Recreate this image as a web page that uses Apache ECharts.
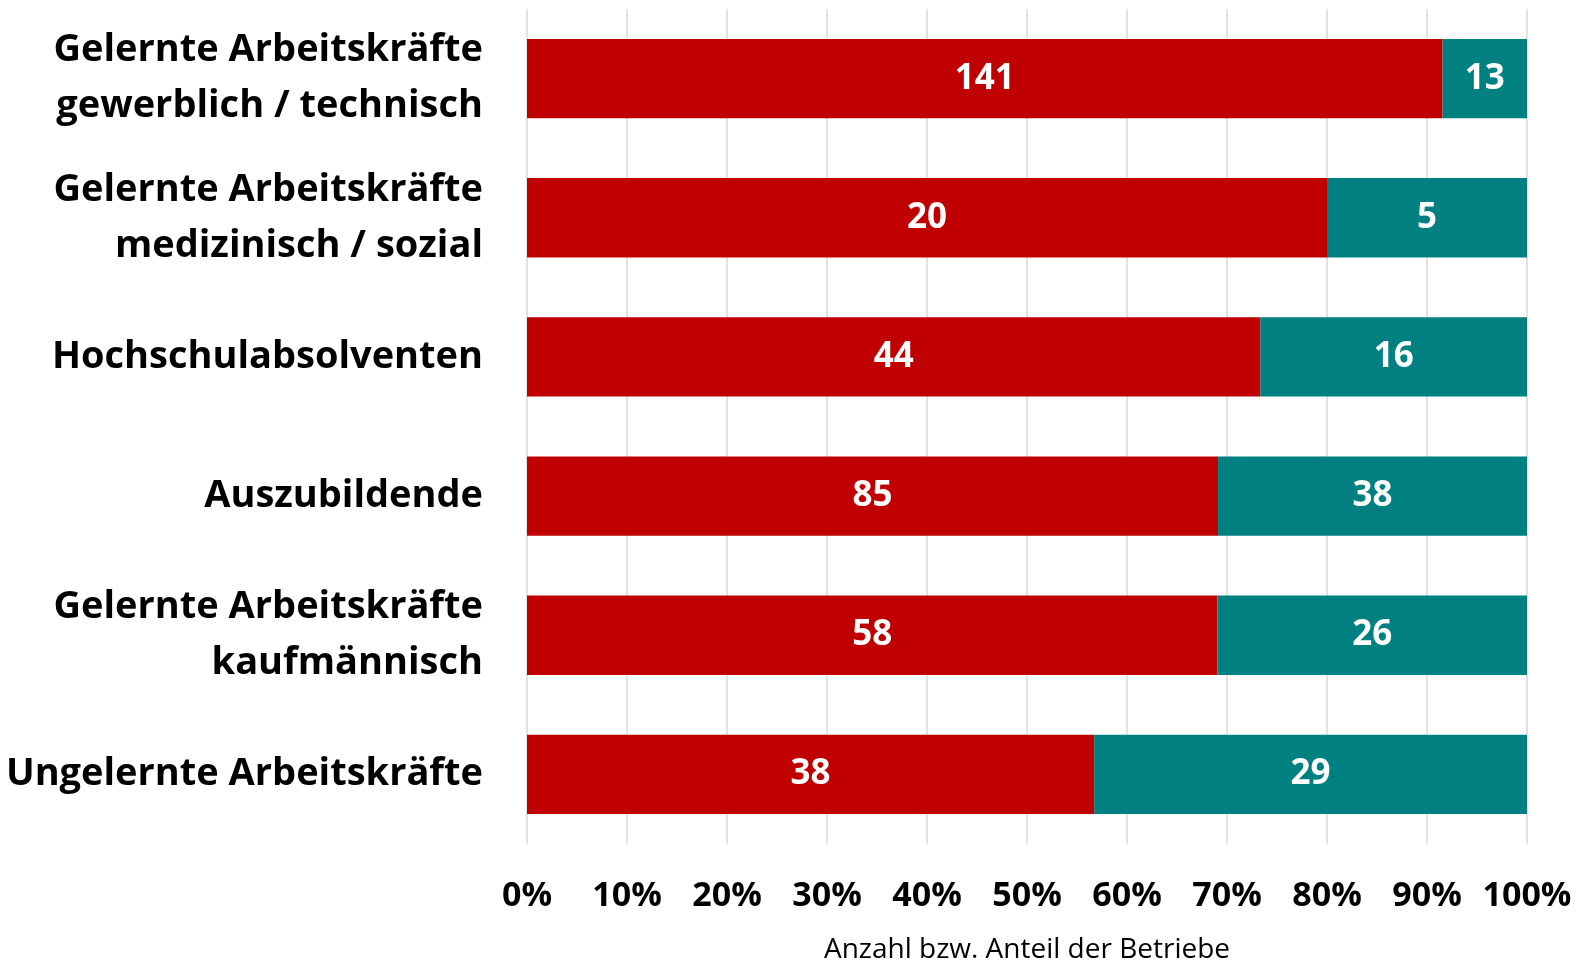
<!DOCTYPE html>
<html>
<head>
<meta charset="utf-8">
<script src="https://cdn.jsdelivr.net/npm/echarts@6/dist/echarts.min.js"></script>
<style>
  html, body { margin: 0; padding: 0; background: #fff; }
  #chart { width: 1579px; height: 961px; }
</style>
</head>
<body>
<div id="chart"></div>
<script>
// Employee groups, top to bottom
const categories = [
  'Gelernte Arbeitskräfte\ngewerblich / technisch',
  'Gelernte Arbeitskräfte\nmedizinisch / sozial',
  'Hochschulabsolventen',
  'Auszubildende',
  'Gelernte Arbeitskräfte\nkaufmännisch',
  'Ungelernte Arbeitskräfte'
];
// Number of companies per answer
const redCounts = [141, 20, 44, 85, 58, 38];
const tealCounts = [13, 5, 16, 38, 26, 29];
// Percent axis ticks
const tickValues = [0, 10, 20, 30, 40, 50, 60, 70, 80, 90, 100];

const FONT = '"Open Sans", Lato, sans-serif';

// Bars are drawn as shares of each row total; labels show the counts
function share(i, v) {
  return v / (redCounts[i] + tealCounts[i]) * 100;
}
const redData = redCounts.map((v, i) => ({ value: share(i, v), count: v }));
const tealData = tealCounts.map((v, i) => ({ value: share(i, v), count: v }));

const labelStyle = {
  show: true,
  position: 'inside',
  color: '#fff',
  fontFamily: FONT,
  fontWeight: 'bold',
  fontSize: 35,
  formatter: p => p.data.count
};

const chart = echarts.init(document.getElementById('chart'), null, { renderer: 'canvas' });
chart.setOption({
  animation: false,
  grid: { left: 527, right: 52, top: 9, bottom: 117, containLabel: false, outerBoundsMode: 'none' },
  xAxis: {
    type: 'value',
    min: tickValues[0],
    max: tickValues[tickValues.length - 1],
    interval: 10,
    axisLine: { show: false },
    axisTick: { show: false },
    splitLine: { show: true, lineStyle: { color: '#d9d9d9', width: 1.5 } },
    axisLabel: {
      formatter: v => v + '%',
      color: '#000',
      fontFamily: FONT,
      fontWeight: 'bold',
      fontSize: 34,
      margin: 35
    },
    name: 'Anzahl bzw. Anteil der Betriebe',
    nameLocation: 'middle',
    nameGap: 92,
    nameTextStyle: { color: '#000', fontFamily: FONT, fontSize: 28 }
  },
  yAxis: {
    type: 'category',
    data: categories,
    inverse: true,
    axisLine: { show: false },
    axisTick: { show: false },
    axisLabel: {
      color: '#000',
      fontFamily: FONT,
      fontWeight: 'bold',
      fontSize: 38,
      lineHeight: 56,
      margin: 44,
      align: 'right'
    }
  },
  series: [
    {
      type: 'bar',
      stack: 'total',
      data: redData,
      barCategoryGap: '43%',
      itemStyle: { color: '#C00000' },
      label: labelStyle
    },
    {
      type: 'bar',
      stack: 'total',
      data: tealData,
      barCategoryGap: '43%',
      itemStyle: { color: '#008080' },
      label: labelStyle
    }
  ]
});
</script>
</body>
</html>
